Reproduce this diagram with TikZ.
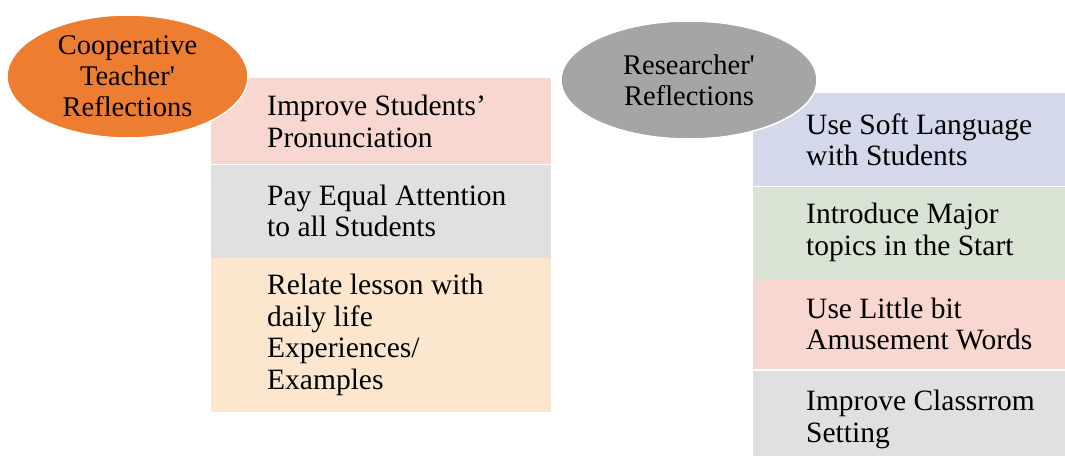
\documentclass[tikz,border=0pt]{standalone}
\usepackage{fontspec}
\setmainfont{Liberation Serif}
\usetikzlibrary{positioning,shapes.geometric}
\definecolor{ellorange}{RGB}{237,125,49}
\definecolor{ellgray}{RGB}{165,165,165}
\definecolor{pinkbox}{RGB}{248,215,208}
\definecolor{graybox}{RGB}{224,224,224}
\definecolor{peachbox}{RGB}{253,230,206}
\definecolor{bluebox}{RGB}{211,216,235}
\definecolor{greenbox}{RGB}{216,227,212}

\begin{document}
\begin{tikzpicture}[x=1pt,y=-1pt,
    ell/.style={ellipse, draw=white, line width=1.5pt, inner sep=0, align=center, font=\fontsize{28.5}{31}\selectfont},
    bar/.style={rectangle, inner sep=0, anchor=north west},
    txt/.style={inner sep=0, align=left, anchor=west, font=\fontsize{29.5}{31.5}\selectfont}]

    \useasboundingbox (0,0) rectangle (1065,455);

    \node[bar, fill=pinkbox, minimum width=340pt, minimum height=86pt] (c1) at (211,78) {};
    \node[bar, fill=graybox, minimum width=340pt, minimum height=93pt, below=0pt of c1] (c2) {};
    \node[bar, fill=peachbox, minimum width=340pt, minimum height=154pt, below=0pt of c2] (c3) {};

    \node[txt, right=56pt of c1.west] (t1) {Improve Students’\\Pronunciation};
    \node[txt, right=56pt of c2.west] (t2) {Pay Equal Attention\\to all Students};
    \node[txt, right=56pt of c3.west] (t3) {Relate lesson with\\daily life\\Experiences/\\Examples};

    \node[bar, fill=bluebox, minimum width=312pt, minimum height=93pt] (r1) at (753,93) {};
    \node[bar, fill=greenbox, minimum width=312pt, minimum height=92pt, below=0pt of r1] (r2) {};
    \node[bar, fill=pinkbox, minimum width=312pt, minimum height=90pt, below=0pt of r2] (r3) {};
    \node[bar, fill=graybox, minimum width=312pt, minimum height=90pt, below=2pt of r3] (r4) {};

    \node[txt, right=53pt of r1.west] (s1) {Use Soft Language\\with Students};
    \node[txt, right=53pt of r2.west] (s2) {Introduce Major\\topics in the Start};
    \node[txt, right=53pt of r3.west] (s3) {Use Little bit\\Amusement Words};
    \node[txt, right=53pt of r4.west, yshift=-3pt] (s4) {Improve Classrrom\\Setting};

    \node[ell, fill=ellorange, minimum width=241pt, minimum height=123pt] (coop) at (127.5,76.5) {Cooperative\\Teacher\textquotesingle\\Reflections};
    \node[ell, fill=ellgray, minimum width=256pt, minimum height=118pt] (res) at (689,80) {Researcher\textquotesingle\\Reflections};
\end{tikzpicture}
\end{document}
